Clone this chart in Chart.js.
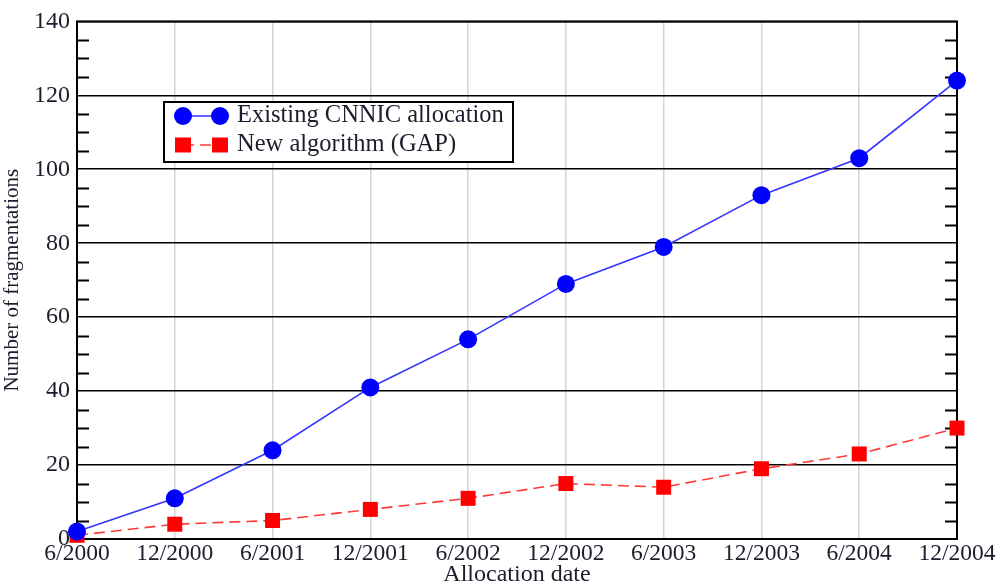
<!DOCTYPE html>
<html>
<head>
<meta charset="utf-8">
<script src="https://cdn.jsdelivr.net/npm/chart.js@4.4.1/dist/chart.umd.min.js"></script>
<style>
  html, body { margin: 0; padding: 0; background: #fff; }
  #wrap { width: 1000px; height: 585px; position: relative; }
</style>
</head>
<body>
<div id="wrap"><canvas id="chart"></canvas></div>
<script>
// Allocation dates (x categories)
const allocationDates = ['6/2000', '12/2000', '6/2001', '12/2001', '6/2002', '12/2002', '6/2003', '12/2003', '6/2004', '12/2004'];
// Number of fragmentations per allocation scheme
const existingCnnic = [2, 11, 24, 41, 54, 69, 79, 93, 103, 124];
const newAlgorithmGap = [1, 4, 5, 8, 11, 15, 14, 19, 23, 30];
// Labelled y ticks
const yTickLabels = [0, 20, 40, 60, 80, 100, 120, 140];

const SERIF = "'Liberation Serif', 'Times New Roman', serif";
const TEXT = '#1c1c2c';

// Box frame plus short inward minor ticks on the left and right axes
const frameTicks = {
  id: 'frameTicks',
  beforeDatasetsDraw(chart) {
    const { ctx, chartArea: a, scales: { y } } = chart;
    ctx.save();
    ctx.strokeStyle = '#000';
    ctx.lineWidth = 2;
    ctx.beginPath();
    for (let v = 5; v < 140; v += 5) {
      if (yTickLabels.includes(v)) continue;
      const py = Math.round(y.getPixelForValue(v)) + 0.5;
      ctx.moveTo(a.left, py); ctx.lineTo(a.left + 12, py);
      ctx.moveTo(a.right, py); ctx.lineTo(a.right - 12, py);
    }
    ctx.stroke();
    ctx.strokeRect(a.left, a.top, a.right - a.left, a.bottom - a.top);
    ctx.restore();
  }
};

// Boxed legend with a line sample and a marker at both ends
const boxedLegend = {
  id: 'boxedLegend',
  afterDatasetsDraw(chart) {
    const { ctx } = chart;
    const bx = 164, by = 102, bw = 349, bh = 60;
    ctx.save();
    ctx.fillStyle = '#fff';
    ctx.fillRect(bx, by, bw, bh);
    ctx.strokeStyle = '#000';
    ctx.lineWidth = 2;
    ctx.strokeRect(bx, by, bw, bh);
    const rows = [116, 145];
    chart.data.datasets.forEach((ds, i) => {
      const cy = rows[i];
      const x1 = 183, x2 = 220;
      ctx.strokeStyle = ds.borderColor;
      ctx.lineWidth = ds.borderWidth;
      ctx.setLineDash(ds.borderDash || []);
      ctx.beginPath(); ctx.moveTo(x1, cy); ctx.lineTo(x2, cy); ctx.stroke();
      ctx.setLineDash([]);
      ctx.fillStyle = ds.pointBackgroundColor;
      [x1, x2].forEach(px => {
        ctx.beginPath();
        if (ds.pointStyle === 'rect') {
          ctx.rect(px - 8, cy - 7.5, 16, 15);
        } else {
          ctx.arc(px, cy, 9, 0, Math.PI * 2);
        }
        ctx.fill();
      });
      ctx.fillStyle = TEXT;
      ctx.font = '24.5px ' + SERIF;
      ctx.textBaseline = 'middle';
      ctx.textAlign = 'left';
      ctx.fillText(ds.label, 237, cy);
    });
    ctx.restore();
  }
};

new Chart(document.getElementById('chart'), {
  type: 'line',
  data: {
    labels: allocationDates,
    datasets: [
      {
        label: 'Existing CNNIC allocation',
        data: existingCnnic,
        borderColor: '#3434ff',
        borderWidth: 1.6,
        pointStyle: 'circle',
        pointRadius: 9,
        pointBackgroundColor: '#0000ff',
        pointBorderWidth: 0,
        pointBorderColor: '#0000ff',
        tension: 0,
        clip: false
      },
      {
        label: 'New algorithm (GAP)',
        data: newAlgorithmGap,
        borderColor: '#ff3a3a',
        borderWidth: 1.6,
        borderDash: [11, 6],
        pointStyle: 'rect',
        pointRadius: 10.6,
        pointBackgroundColor: '#ff0000',
        pointBorderWidth: 0,
        pointBorderColor: '#ff0000',
        tension: 0,
        clip: false
      }
    ]
  },
  options: {
    responsive: true,
    maintainAspectRatio: false,
    devicePixelRatio: 1,
    animation: false,
    layout: { padding: { left: 0, right: 43, top: 20, bottom: 0 } },
    plugins: { legend: { display: false }, tooltip: { enabled: false } },
    scales: {
      x: {
        offset: false,
        grid: { color: '#d4d4d4', lineWidth: 1.5, drawTicks: false },
        border: { display: false },
        ticks: { color: TEXT, font: { family: SERIF, size: 23.5 }, padding: 1, maxRotation: 0, autoSkip: false },
        title: { display: true, text: 'Allocation date', color: TEXT, font: { family: SERIF, size: 24 }, padding: { top: 0, bottom: -4 } },
        afterFit(s) { s.height = 46; }
      },
      y: {
        min: 0, max: 140,
        grid: {
          drawTicks: false,
          lineWidth: 1.6,
          color: c => (yTickLabels.includes(c.tick.value) ? '#000' : 'rgba(0,0,0,0)')
        },
        border: { display: false },
        ticks: {
          stepSize: 5,
          padding: 7,
          color: TEXT,
          font: { family: SERIF, size: 24 },
          callback: v => (yTickLabels.includes(v) ? String(v) : null)
        },
        title: { display: true, text: 'Number of fragmentations', color: TEXT, font: { family: SERIF, size: 21 }, padding: { top: 0, bottom: 0 } },
        afterFit(s) { s.width = 77; }
      }
    }
  },
  plugins: [frameTicks, boxedLegend]
});
</script>
</body>
</html>
